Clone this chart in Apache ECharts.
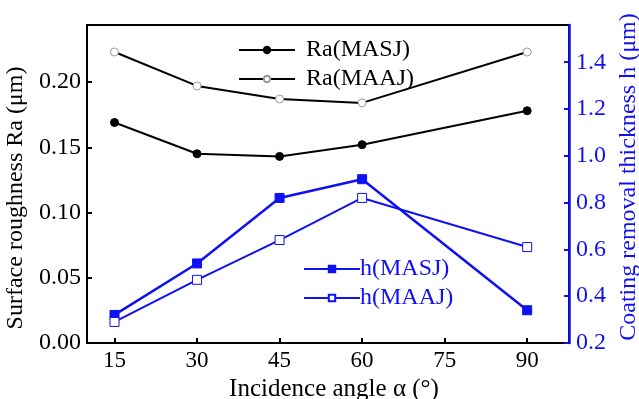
<!DOCTYPE html>
<html><head><meta charset="utf-8">
<script src="https://cdn.jsdelivr.net/npm/echarts@6/dist/echarts.min.js"></script>
<style>html,body{margin:0;padding:0;background:#fff}#c{width:639px;height:399px}</style>
</head><body><div id="c"></div>
<script>
const angles = [15, 30, 45, 60, 90];
const raMASJ = [0.169, 0.145, 0.143, 0.152, 0.178];
const raMAAJ = [0.223, 0.197, 0.187, 0.184, 0.223];
const hMASJ = [0.32, 0.54, 0.82, 0.90, 0.34];
const hMAAJ = [0.29, 0.47, 0.64, 0.82, 0.61];
const xTicks = [15, 30, 45, 60, 75, 90];
const leftTicks = [0, 0.05, 0.10, 0.15, 0.20];
const rightTicks = [0.2, 0.4, 0.6, 0.8, 1.0, 1.2, 1.4];

const F = 'Liberation Serif, Times New Roman, serif';
const BLUE = '#1010f5';
const pair = (xs, ys) => xs.map((x, i) => [x, ys[i]]);

const chart = echarts.init(document.getElementById('c'));
chart.setOption({
  animation: false,
  grid: {left: 87, right: 70, top: 25, bottom: 56, show: true, borderColor: '#000', borderWidth: 2,
         backgroundColor: 'transparent', containLabel: false, outerBoundsMode: 'none'},
  legend: [
    {data: ['Ra(MASJ)', 'Ra(MAAJ)'], orient: 'vertical', left: 233, top: 33, itemWidth: 56, itemHeight: 8, itemGap: 5,
     textStyle: {fontFamily: F, fontSize: 24, color: '#000', padding: [0,0,0,6]}},
    {data: ['h(MASJ)', 'h(MAAJ)'], orient: 'vertical', left: 298, top: 252, itemWidth: 56, itemHeight: 8, itemGap: 5,
     textStyle: {fontFamily: F, fontSize: 24, color: BLUE, padding: [0,0,0,-5]}}
  ],
  xAxis: {
    type: 'value', min: 10, max: 97.6,
    name: 'Incidence angle α (°)', nameLocation: 'middle', nameGap: 27,
    nameTextStyle: {fontFamily: F, fontSize: 25, color: '#000', padding: [0,0,0,12]},
    axisLine: {lineStyle: {color: '#000', width: 2}},
    axisTick: {inside: true, length: 5, lineStyle: {width: 2}, customValues: xTicks},
    axisLabel: {fontFamily: F, fontSize: 23, color: '#000', margin: 6, customValues: xTicks},
    splitLine: {show: false}
  },
  yAxis: [
    {type: 'value', min: 0, max: 0.2437, position: 'left',
     name: 'Surface roughness Ra (μm)', nameLocation: 'middle', nameGap: 48,
     nameTextStyle: {fontFamily: F, fontSize: 24, color: '#000', padding: [0,28,0,0]},
     axisLine: {show: true, lineStyle: {color: '#000', width: 2}},
     axisTick: {show: true, inside: true, length: 5, lineStyle: {width: 2}, customValues: leftTicks},
     axisLabel: {fontFamily: F, fontSize: 24, color: '#000', margin: 6, customValues: leftTicks,
       formatter: v => v.toFixed(2)},
     splitLine: {show: false}},
    {type: 'value', min: 0.2, max: 1.559, position: 'right',
     name: 'Coating removal thickness h (μm)', nameLocation: 'middle', nameGap: 46,
     nameTextStyle: {fontFamily: F, fontSize: 24, color: BLUE, padding: [0,0,0,14]},
     axisLine: {show: true, lineStyle: {color: BLUE, width: 2.5}},
     axisTick: {show: true, inside: true, length: 5, lineStyle: {width: 2}, customValues: rightTicks},
     axisLabel: {fontFamily: F, fontSize: 24, color: BLUE, margin: 7, customValues: rightTicks,
       formatter: v => v.toFixed(1)},
     splitLine: {show: false}}
  ],
  series: [
    {name: 'Ra(MASJ)', type: 'line', yAxisIndex: 0, data: pair(angles, raMASJ),
     symbol: 'circle', symbolSize: 8, lineStyle: {color: '#000', width: 2},
     itemStyle: {color: '#000', borderColor: '#000', borderWidth: 1}},
    {name: 'Ra(MAAJ)', type: 'line', yAxisIndex: 0, data: pair(angles, raMAAJ),
     symbol: 'circle', symbolSize: 8, lineStyle: {color: '#000', width: 2},
     itemStyle: {color: '#fff', borderColor: '#999', borderWidth: 1}},
    {name: 'h(MASJ)', type: 'line', yAxisIndex: 1, data: pair(angles, hMASJ),
     symbol: 'rect', symbolSize: 9, lineStyle: {color: BLUE, width: 2.5},
     itemStyle: {color: BLUE, borderColor: BLUE, borderWidth: 1}},
    {name: 'h(MAAJ)', type: 'line', yAxisIndex: 1, data: pair(angles, hMAAJ),
     symbol: 'rect', symbolSize: 9, lineStyle: {color: BLUE, width: 2},
     itemStyle: {color: '#fff', borderColor: BLUE, borderWidth: 1}}
  ]
});
</script></body></html>
